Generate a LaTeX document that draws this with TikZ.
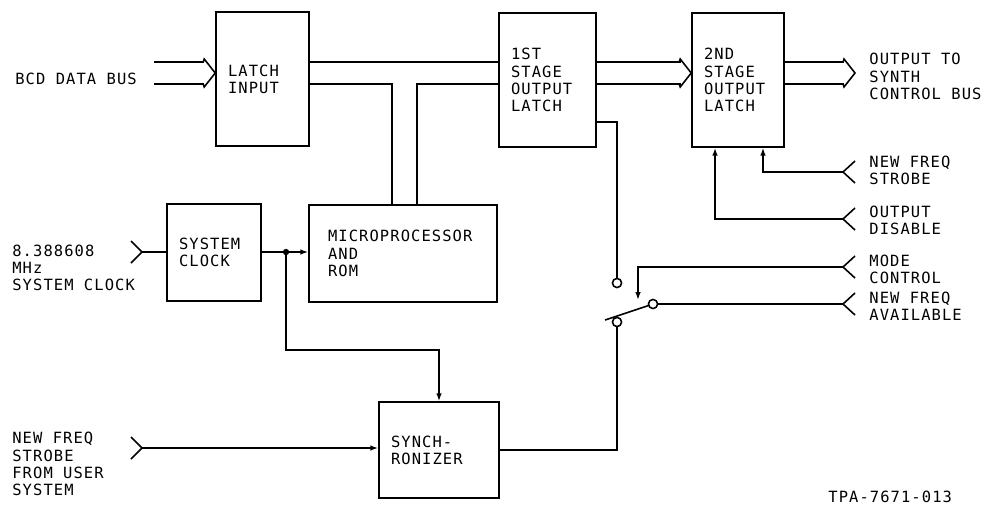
\documentclass[tikz,border=0pt]{standalone}
\usepackage{fontspec}
\usepackage{tikz}
\usetikzlibrary{arrows.meta,calc}
\newfontfamily\plotfont[LetterSpace=7]{DejaVu Sans Mono}

\tikzset{
  plot/.style={font={\plotfont\fontsize{8.8}{9.8}\selectfont}},
  blk/.style={draw, plot, line width=0.9pt, inner xsep=0.24cm, inner ysep=0pt, align=left, minimum height=2.68cm},
  lbl/.style={plot, anchor=west, inner sep=0pt, align=left},
  wire/.style={line width=0.9pt},
  bushead/.pic={\draw[wire] (-12,-11) -- (-11,-14) -- (0,0) -- (-11,14) -- (-12,11);}
}

\begin{document}
\begin{tikzpicture}[x=0.02cm, y=-0.02cm, >={Latex[length=4.5pt,width=3.2pt]}]
        \useasboundingbox (0,0) rectangle (986,504);

        % Blocks
        \node[blk, text width=1.38cm] (latchin) at (262.5,79) {LATCH\\INPUT};
        \node[blk, text width=1.46cm] (stage1) at (547.5,80) {1ST\\STAGE\\OUTPUT\\LATCH};
        \node[blk, text width=1.36cm] (stage2) at (738,80) {2ND\\STAGE\\OUTPUT\\LATCH};
        \node[blk, text width=1.40cm, minimum height=1.94cm] (sysclk) at (214,252.5) {SYSTEM\\CLOCK};
        \node[blk, text width=3.0cm, inner xsep=0.38cm, minimum height=1.94cm] (micro) at (403,253.5) {MICROPROCESSOR\\AND\\ROM};
        \node[blk, text width=1.92cm, minimum height=1.92cm] (synch) at (439,450) {SYNCH-\\RONIZER};

        % Outside signals
        \node[lbl] (bcdlbl) at (15,79) {BCD DATA BUS};
        \node[lbl] (clklbl) at (12,268) {8.388608\\MHz\\SYSTEM CLOCK};
        \node[lbl] (userlbl) at (12,464) {NEW FREQ\\STROBE\\FROM USER\\SYSTEM};
        \node[lbl] (outlbl) at (869,76.5) {OUTPUT TO\\SYNTH\\CONTROL BUS};
        \node[lbl] (strlbl) at (869,170.5) {NEW FREQ\\STROBE};
        \node[lbl] (dislbl) at (869,220) {OUTPUT\\DISABLE};
        \node[lbl] (modelbl) at (869,269.5) {MODE\\CONTROL};
        \node[lbl] (availlbl) at (869,306.5) {NEW FREQ\\AVAILABLE};
        \node[lbl] (tpa) at (828,497) {TPA-7671-013};

        % Terminals and switch points
        \coordinate (hi) at (0,62);
        \coordinate (lo) at (0,84);
        \coordinate (mid) at (0,73);
        \coordinate (bcd) at (154,73);
        \coordinate (busout) at (855,73);
        \coordinate (tapA) at (392,84);
        \coordinate (tapB) at (417,84);
        \coordinate (clkin) at (142,252);
        \coordinate (userin) at (142,448);
        \coordinate (jn) at (286,252);
        \coordinate (clkbend) at (286,350);
        \coordinate (strin) at (843,172);
        \coordinate (disin) at (843,219);
        \coordinate (modein) at (843,267);
        \coordinate (availin) at (843,304);
        \coordinate (swup) at (617,283);
        \coordinate (swpiv) at (617,322);
        \coordinate (swno) at (653,304);
        \coordinate (swlink) at (638,300);

        % Buses
        \draw[wire] (bcd |- hi) -- ++(50,0) (bcd |- lo) -- ++(50,0);
        \pic at (latchin.west |- mid) {bushead};
        \draw[wire] (latchin.east |- hi) -- (stage1.west |- hi);
        \draw[wire] (latchin.east |- lo) -- (tapA) -- (micro.north -| tapA);
        \draw[wire] (micro.north -| tapB) -- (tapB) -- (stage1.west |- lo);
        \draw[wire] (stage1.east |- hi) -- ++(84,0) (stage1.east |- lo) -- ++(84,0);
        \pic at (stage2.west |- mid) {bushead};
        \draw[wire] (stage2.east |- hi) -- ++(59,0) (stage2.east |- lo) -- ++(59,0);
        \pic at (busout) {bushead};

        % Input chevrons
        \foreach \c in {clkin,userin}
          \draw[wire] (\c) ++(-11,-11) -- (\c) -- ++(-11,11);
        \foreach \c in {strin,disin,modein,availin}
          \draw[wire] (\c) ++(12,-11) -- (\c) -- ++(12,11);

        % Clock and strobe
        \draw[wire] (clkin) -- (sysclk.west |- clkin);
        \draw[wire, ->] (sysclk.east |- jn) -- (micro.west |- jn);
        \draw[wire, ->] (jn) -- (clkbend) -| (synch.north);
        \fill (jn) circle (1.8pt);
        \draw[wire, ->] (userin) -- (synch.west |- userin);

        % Second latch controls
        \draw[wire, ->] (strin) -| ([xshift=0.5cm]stage2.south);
        \draw[wire, ->] (disin) -| ([xshift=-0.46cm]stage2.south);

        % Switch
        \draw[wire] ([yshift=-0.84cm]stage1.east) -| (swup);
        \draw[wire] (swpiv) |- (synch.east);
        \draw[wire] (swpiv) ++(-12,-2) -- (swno);
        \draw[wire] (availin) -- (swno);
        \draw[wire, ->] (modein) -| (swlink);
        \foreach \p in {swup,swpiv,swno}
          \draw[wire, fill=white] (\p) circle (2.6pt);
    \end{tikzpicture}
\end{document}
